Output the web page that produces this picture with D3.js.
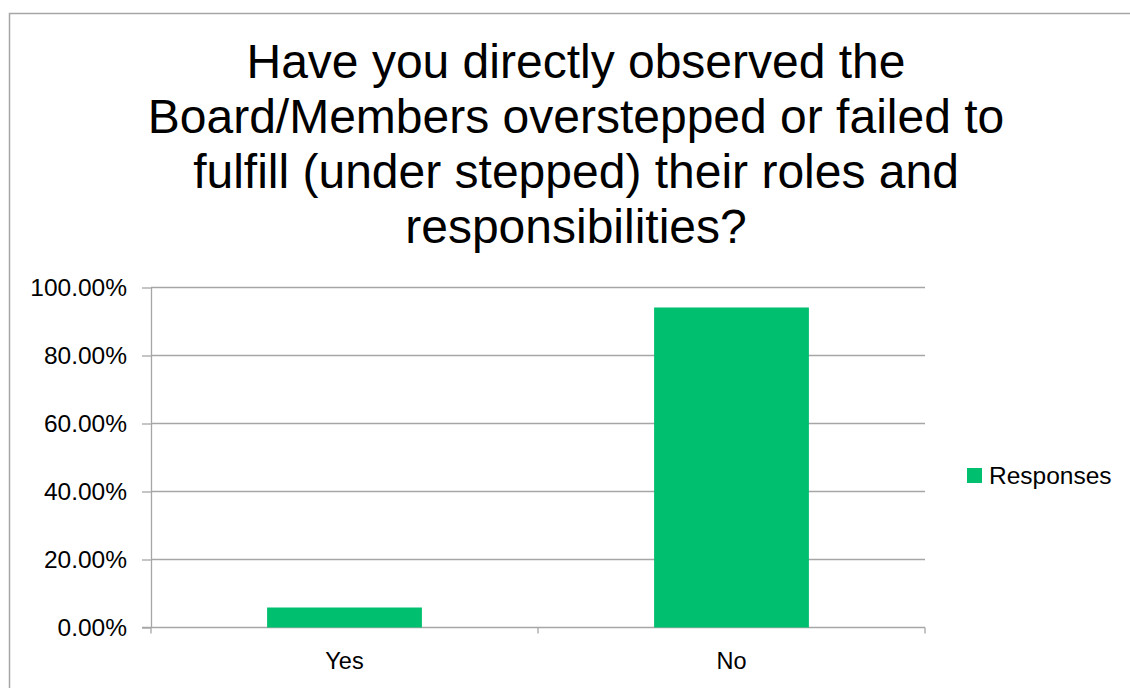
<!DOCTYPE html>
<html>
<head>
<meta charset="utf-8">
<script src="https://cdn.jsdelivr.net/npm/d3@7"></script>
<style>
  html, body { margin: 0; padding: 0; background: #fff; }
  svg { display: block; font-family: "Liberation Sans", Arial, sans-serif; }
</style>
</head>
<body>
<svg id="chart" width="1130" height="688"></svg>
<script>
// Survey responses
const categories = ["Yes", "No"];
const responses = [5.88, 94.12];
const yTicks = [0, 20, 40, 60, 80, 100];
const seriesName = "Responses";
const titleLines = [
  "Have you directly observed the",
  "Board/Members overstepped or failed to",
  "fulfill (under stepped) their roles and",
  "responsibilities?"
];

const svg = d3.select("#chart");
const green = "#00BF6F";
const grid = "#A6A6A6";

// chart frame
svg.append("rect")
  .attr("x", 9.5).attr("y", 13.5)
  .attr("width", 1200).attr("height", 800)
  .attr("fill", "#fff").attr("stroke", "#A6A6A6").attr("stroke-width", 1.5);

const plot = { left: 151, right: 925, top: 287.5, bottom: 627.5 };

const x = d3.scaleBand().domain(categories)
  .range([plot.left, plot.right]).paddingInner(0.6).paddingOuter(0.3);
const xOuter = d3.scaleBand().domain(categories).range([plot.left, plot.right]);
const y = d3.scaleLinear().domain([0, 100]).range([plot.bottom, plot.top]);

// title
svg.append("text")
  .attr("text-anchor", "middle")
  .attr("font-size", 48)
  .attr("fill", "#000")
  .selectAll("tspan").data(titleLines).join("tspan")
  .attr("x", 576)
  .attr("y", (d, i) => 78 + i * 55)
  .text(d => d);

// gridlines
svg.append("g").selectAll("line").data(yTicks.filter(t => t > 0)).join("line")
  .attr("x1", plot.left).attr("x2", plot.right)
  .attr("y1", d => y(d)).attr("y2", d => y(d))
  .attr("stroke", grid).attr("stroke-width", 1.3);

// y axis
const yAxis = svg.append("g").attr("transform", `translate(${plot.left},0)`)
  .call(d3.axisLeft(y).tickValues(yTicks).tickSize(9).tickPadding(15)
    .tickFormat(d => d.toFixed(2) + "%"));
yAxis.select(".domain").attr("stroke", grid).attr("stroke-width", 1.3)
  .attr("d", `M0.5,${plot.top}V${plot.bottom}`);
yAxis.selectAll(".tick line").attr("stroke", grid).attr("stroke-width", 1.3);
yAxis.selectAll(".tick text").attr("font-size", 24.5).attr("fill", "#000")
  .attr("font-family", "Liberation Sans, Arial, sans-serif");

// x axis
const xAxisG = svg.append("g").attr("transform", `translate(0,${plot.bottom})`);
xAxisG.append("line")
  .attr("x1", plot.left - 9).attr("x2", plot.right)
  .attr("stroke", grid).attr("stroke-width", 1.3);
const xBoundaries = [plot.left, ...categories.map(c => xOuter(c) + xOuter.bandwidth())];
xAxisG.selectAll("line.tk").data(xBoundaries).join("line").attr("class", "tk")
  .attr("x1", d => d).attr("x2", d => d)
  .attr("y1", 0).attr("y2", 6)
  .attr("stroke", grid).attr("stroke-width", 1.3);
xAxisG.selectAll("text").data(categories).join("text")
  .attr("x", d => xOuter(d) + xOuter.bandwidth() / 2)
  .attr("y", 41)
  .attr("text-anchor", "middle")
  .attr("font-size", 23.5).attr("fill", "#000")
  .text(d => d);

// bars
svg.append("g").selectAll("rect").data(categories).join("rect")
  .attr("x", d => x(d))
  .attr("width", x.bandwidth())
  .attr("y", (d, i) => y(responses[i]))
  .attr("height", (d, i) => y(0) - y(responses[i]))
  .attr("fill", green);

// legend
const lg = svg.append("g").attr("transform", "translate(967,468)");
lg.append("rect").attr("width", 15).attr("height", 15).attr("fill", green);
lg.append("text").attr("x", 22).attr("y", 16).attr("font-size", 24.5)
  .attr("fill", "#000").text(seriesName);
</script>
</body>
</html>
